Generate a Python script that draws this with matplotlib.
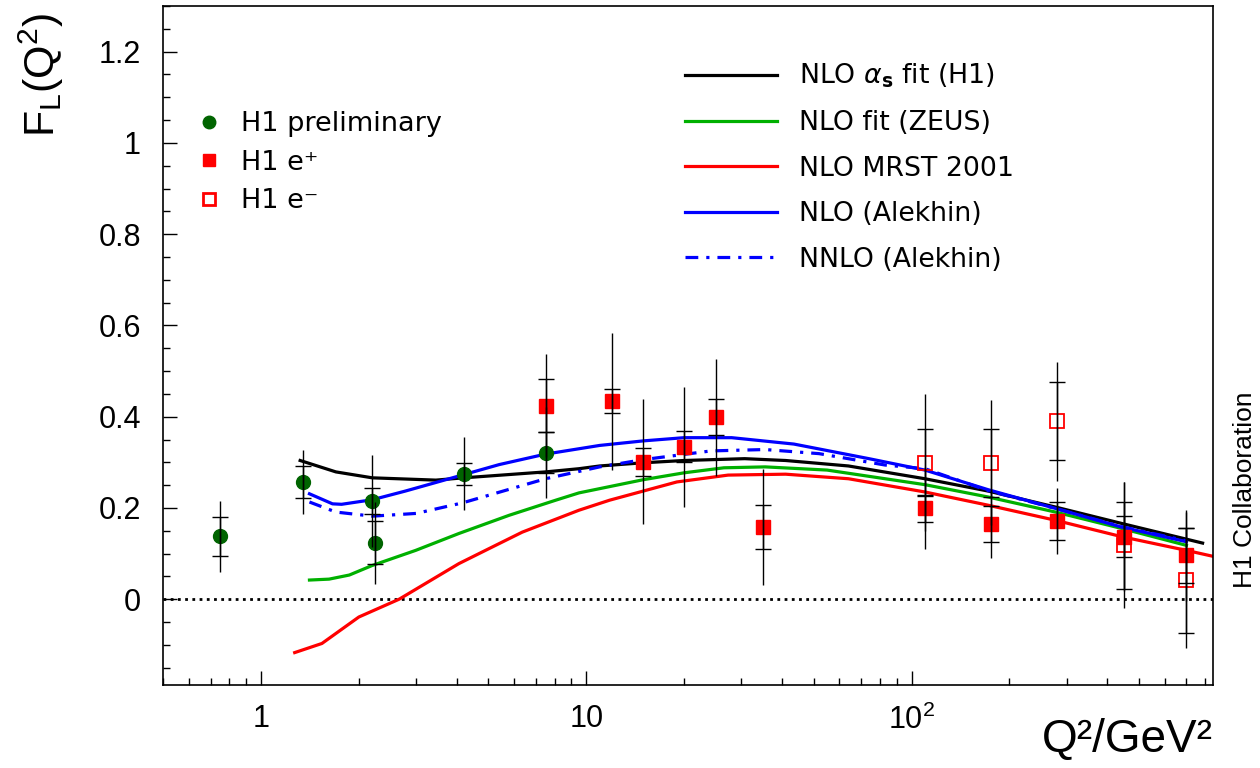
import matplotlib
matplotlib.use("Agg")
import matplotlib.pyplot as plt
from matplotlib.ticker import FixedLocator, FixedFormatter, MultipleLocator, NullFormatter
from matplotlib.lines import Line2D

plt.rcParams['font.family'] = ['Liberation Sans', 'DejaVu Sans']

# H1 preliminary (low Q2)
q2_prelim = [0.75, 1.35, 2.2, 2.24, 4.2, 7.5]
fl_prelim = [0.138, 0.256, 0.215, 0.124, 0.275, 0.321]
stat_prelim = [0.043, 0.035, 0.028, 0.047, 0.024, 0.045]
tot_prelim = [0.078, 0.070, 0.100, 0.090, 0.080, 0.100]

# H1 e+
q2_ep = [7.5, 12, 15, 20, 25, 35, 110, 175, 280, 450, 700]
fl_ep = [0.424, 0.434, 0.301, 0.334, 0.399, 0.158, 0.199, 0.165, 0.172, 0.137, 0.096]
stat_ep = [0.058, 0.027, 0.030, 0.034, 0.040, 0.049, 0.030, 0.040, 0.042, 0.045, 0.060]
tot_ep = [0.113, 0.150, 0.137, 0.131, 0.128, 0.127, 0.090, 0.075, 0.072, 0.120, 0.100]

# H1 e-
q2_em = [110, 175, 280, 450, 700]
fl_em = [0.299, 0.299, 0.390, 0.118, 0.042]
stat_em = [0.073, 0.075, 0.085, 0.096, 0.115]
tot_em = [0.150, 0.137, 0.130, 0.138, 0.150]

# theory curves
q2_h1 = [1.32, 1.7, 2.2, 3.45, 4.2, 7.5, 9.5, 11, 15, 20, 30.7, 41, 64, 110, 172, 277, 443, 785]
fl_h1 = [0.304, 0.279, 0.266, 0.261, 0.266, 0.279, 0.286, 0.292, 0.299, 0.304, 0.308, 0.304,
         0.292, 0.264, 0.237, 0.202, 0.166, 0.123]

q2_zeus = [1.41, 1.62, 1.87, 2.2, 2.99, 4.06, 5.8, 8.06, 9.5, 15, 20, 26.5, 35.5, 55, 110,
           172, 277, 443, 700]
fl_zeus = [0.042, 0.044, 0.053, 0.074, 0.107, 0.144, 0.184, 0.217, 0.233, 0.262, 0.277, 0.288,
           0.290, 0.283, 0.251, 0.224, 0.191, 0.155, 0.118]

q2_mrst = [1.27, 1.54, 2.0, 2.66, 4.06, 5.03, 6.36, 9.5, 11.8, 19, 27.3, 41, 64, 110, 172,
           277, 443, 700, 845]
fl_mrst = [-0.117, -0.097, -0.039, 0.0, 0.078, 0.111, 0.147, 0.195, 0.217, 0.257, 0.272, 0.274,
           0.264, 0.235, 0.206, 0.173, 0.137, 0.107, 0.094]

q2_alekhin = [1.41, 1.66, 1.77, 2.2, 2.78, 3.79, 5.4, 7.5, 11, 15, 20, 28, 43.5, 74, 110,
              172, 277, 443, 700]
fl_alekhin = [0.231, 0.209, 0.208, 0.218, 0.237, 0.264, 0.295, 0.318, 0.337, 0.347, 0.354,
              0.354, 0.340, 0.308, 0.283, 0.240, 0.199, 0.158, 0.126]

q2_nnlo = [1.41, 1.7, 2.2, 3.0, 4.16, 7.5, 11, 15, 24.2, 35.5, 52, 83, 110, 172, 277, 443, 700]
fl_nnlo = [0.213, 0.191, 0.182, 0.188, 0.211, 0.264, 0.290, 0.306, 0.325, 0.328, 0.319, 0.294,
           0.286, 0.238, 0.199, 0.159, 0.128]

fig = plt.figure(figsize=(12.6, 7.68), dpi=100)
ax = fig.add_axes([163 / 1260, 1 - 685 / 768, 1050 / 1260, 679 / 768])

ax.axhline(0, color='k', ls=(0, (1, 1.6)), lw=2, zorder=1)

lw = 2.3
dashdot = (0, (4, 2.5, 1, 2.5))
ax.plot(q2_h1, fl_h1, color='k', lw=lw, zorder=2)
ax.plot(q2_zeus, fl_zeus, color='#00b000', lw=lw, zorder=2)
ax.plot(q2_mrst, fl_mrst, color='#ff0000', lw=lw, zorder=2)
ax.plot(q2_alekhin, fl_alekhin, color='#0000ff', lw=lw, zorder=2)
ax.plot(q2_nnlo, fl_nnlo, color='#0000ff', lw=lw, ls=dashdot, zorder=2)

ax.plot(q2_prelim, fl_prelim, 'o', color='#006400', ms=10, mec='#006400', zorder=3)
ax.plot(q2_ep, fl_ep, 's', color='#ff0000', ms=10, mec='#ff0000', zorder=3)
ax.plot(q2_em, fl_em, 's', mfc='none', mec='#ff0000', mew=1.3, ms=10, zorder=3)

for q, f, st, tt in [(q2_prelim, fl_prelim, stat_prelim, tot_prelim),
                     (q2_ep, fl_ep, stat_ep, tot_ep),
                     (q2_em, fl_em, stat_em, tot_em)]:
    ax.errorbar(q, f, yerr=tt, fmt='none', ecolor='k', elinewidth=1, capsize=0, zorder=4)
    ax.errorbar(q, f, yerr=st, fmt='none', ecolor='k', elinewidth=1, capsize=5.5,
                capthick=1, zorder=4)

ax.set_xscale('log')
ax.set_xlim(0.5, 845)
ax.set_ylim(-0.188, 1.3)

ax.xaxis.set_major_locator(FixedLocator([1, 10, 100]))
ax.xaxis.set_major_formatter(FixedFormatter(['1', '10', r'10$^\mathregular{2}$']))
minor_x = [m * 10.0 ** e for e in (-1, 0, 1, 2) for m in range(2, 10)]
ax.xaxis.set_minor_locator(FixedLocator(minor_x))
ax.xaxis.set_minor_formatter(NullFormatter())
ax.yaxis.set_major_locator(MultipleLocator(0.2))
ax.yaxis.set_major_formatter(plt.FuncFormatter(lambda v, p: '%g' % round(v, 2)))
ax.yaxis.set_minor_locator(MultipleLocator(0.05))

ax.tick_params(axis='both', which='both', direction='in', top=False, right=False,
               labelsize=22, width=1)
ax.tick_params(axis='both', which='major', length=10)
ax.tick_params(axis='both', which='minor', length=5)
ax.tick_params(axis='y', which='major', pad=16)
ax.tick_params(axis='x', which='major', pad=14)
for s in ax.spines.values():
    s.set_linewidth(1.2)

ax.set_xlabel('Q²/GeV²', fontsize=33, loc='right')
ax.xaxis.set_label_coords(1.0, -0.048)
ax.set_ylabel(r'$\mathregular{F_L(Q^2)}$', fontsize=31, loc='top')
ax.yaxis.set_label_coords(-0.092, 0.99)

h1 = [Line2D([], [], ls='none', marker='o', color='#006400', ms=9),
      Line2D([], [], ls='none', marker='s', color='#ff0000', ms=9),
      Line2D([], [], ls='none', marker='s', mfc='none', mec='#ff0000', mew=2, ms=9)]
leg1 = ax.legend(h1, ['H1 preliminary', 'H1 e⁺', 'H1 e⁻'], loc='upper left',
                 bbox_to_anchor=(195 / 1260, 1 - 111 / 768), bbox_transform=fig.transFigure,
                 frameon=False, prop={'family': 'DejaVu Sans', 'size': 19.5},
                 handlelength=1.0, handletextpad=0.7, labelspacing=0.47,
                 borderpad=0, borderaxespad=0)
ax.add_artist(leg1)

h2 = [Line2D([], [], color='k', lw=lw),
      Line2D([], [], color='#00b000', lw=lw),
      Line2D([], [], color='#ff0000', lw=lw),
      Line2D([], [], color='#0000ff', lw=lw),
      Line2D([], [], color='#0000ff', lw=lw, ls=dashdot)]
ax.legend(h2, [r'NLO $\alpha_\mathbf{s}$ fit (H1)', 'NLO fit (ZEUS)', 'NLO MRST 2001',
               'NLO (Alekhin)', 'NNLO (Alekhin)'], loc='upper left',
          bbox_to_anchor=(685 / 1260, 1 - 62 / 768), bbox_transform=fig.transFigure,
          frameon=False, prop={'family': 'DejaVu Sans', 'size': 19.3},
          handlelength=3.42, handletextpad=0.83, labelspacing=0.73,
          borderpad=0, borderaxespad=0)

fig.text(1245 / 1260, 1 - 490 / 768, 'H1 Collaboration', rotation=90, fontsize=19,
         ha='center', va='center')

fig.savefig('out.png', dpi=100)
